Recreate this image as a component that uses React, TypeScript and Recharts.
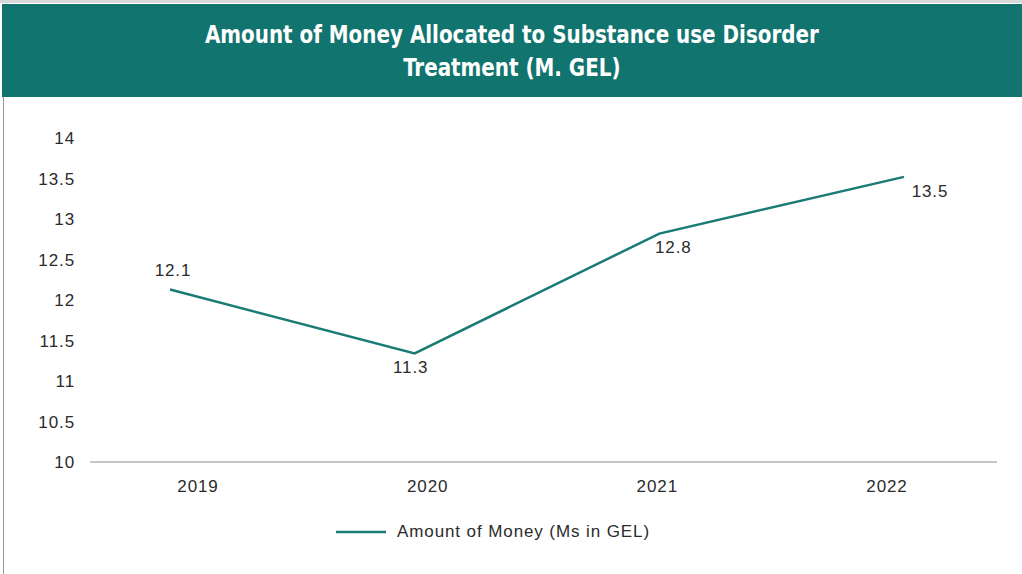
import React from "react";
import { LineChart, Line, XAxis, YAxis, LabelList } from "recharts";

// ─── Data ─────────────────────────────────────────────────────────────────────

const years = ["2019", "2020", "2021", "2022"];
const amounts = [12.13, 11.34, 12.82, 13.52];
const yTicks = [10, 10.5, 11, 11.5, 12, 12.5, 13, 13.5, 14];
const seriesName = "Amount of Money (Ms in GEL)";

const data = years.map((year, i) => ({ year, amount: amounts[i] }));

// ─── Styling ──────────────────────────────────────────────────────────────────

const TEAL = "#12746f";
const LINE = "#1a7b75";
const TEXT = "#2b2b2b";
const FONT = "'Liberation Sans', Arial, sans-serif";
const tickStyle = { fill: TEXT, fontSize: 17, fontFamily: FONT, letterSpacing: 0.9 };

// per-point label nudges (relative to point)
const labelNudge = [
  { dx: 3, dy: -19 },
  { dx: -4, dy: 14 },
  { dx: 14, dy: 14 },
  { dx: 26, dy: 15 },
];

function PointLabel(props: any) {
  const { x, y, value, index } = props;
  const n = labelNudge[index] || { dx: 0, dy: -12 };
  return (
    <text
      x={x + n.dx}
      y={y + n.dy}
      textAnchor="middle"
      dominantBaseline="central"
      fill={TEXT}
      fontSize={17}
      letterSpacing={0.9}
      fontFamily={FONT}
    >
      {Number(value).toFixed(1)}
    </text>
  );
}

export default function App() {
  return (
    <div style={{ position: "fixed", left: 0, top: 0, width: 1022, height: 574, background: "#fff", overflow: "hidden" }}>
      <div style={{ position: "absolute", left: 0, top: 0, width: 1022, height: 3, background: "#d9d9d9" }} />
      <div
        style={{
          position: "absolute", left: 2, top: 4, width: 1020, height: 93, background: TEAL,
          color: "#fff", textAlign: "center", fontFamily: "'DejaVu Sans Condensed', 'DejaVu Sans', sans-serif",
          fontWeight: 700, fontSize: 25, lineHeight: "33px", paddingTop: 14, boxSizing: "border-box",
        }}
      >
        <div style={{ transform: "scaleX(0.885)", transformOrigin: "509px 0" }}>
          Amount of Money Allocated to Substance use Disorder
        </div>
        <div style={{ transform: "scaleX(0.885)", transformOrigin: "509px 0" }}>Treatment (M. GEL)</div>
      </div>
      <div style={{ position: "absolute", left: 3, top: 97, width: 1, height: 477, background: "#9a9a9a" }} />

      <div style={{ position: "absolute", left: 0, top: 97 }}>
        <LineChart width={1022} height={477} data={data} margin={{ top: 41, right: 25, bottom: 82, left: 0 }}>
          <XAxis
            xAxisId="cat"
            dataKey="year"
            height={30}
            padding={{ left: 108, right: 110 }}
            axisLine={{ stroke: "#8c8c8c", strokeWidth: 1 }}
            tickLine={false}
            tickMargin={12}
            tick={tickStyle}
          />
          <XAxis xAxisId="line" dataKey="year" hide height={0} padding={{ left: 80, right: 93 }} />
          <YAxis
            domain={[10, 14]}
            ticks={yTicks}
            width={90}
            axisLine={false}
            tickLine={false}
            tickSize={0}
            tickMargin={15}
            tick={tickStyle}
          />
          <Line
            xAxisId="line"
            type="linear"
            dataKey="amount"
            name={seriesName}
            stroke={LINE}
            strokeWidth={2.5}
            dot={false}
            isAnimationActive={false}
          >
            <LabelList dataKey="amount" content={<PointLabel />} />
          </Line>
        </LineChart>
      </div>

      <div
        style={{
          position: "absolute", left: 336, top: 522, display: "flex", alignItems: "center",
          fontFamily: FONT, fontSize: 17, letterSpacing: 0.9, color: TEXT,
        }}
      >
        <svg width={50} height={4} style={{ marginRight: 11 }}>
          <line x1={0} y1={2} x2={50} y2={2} stroke={LINE} strokeWidth={2.5} />
        </svg>
        <span>{seriesName}</span>
      </div>
    </div>
  );
}
